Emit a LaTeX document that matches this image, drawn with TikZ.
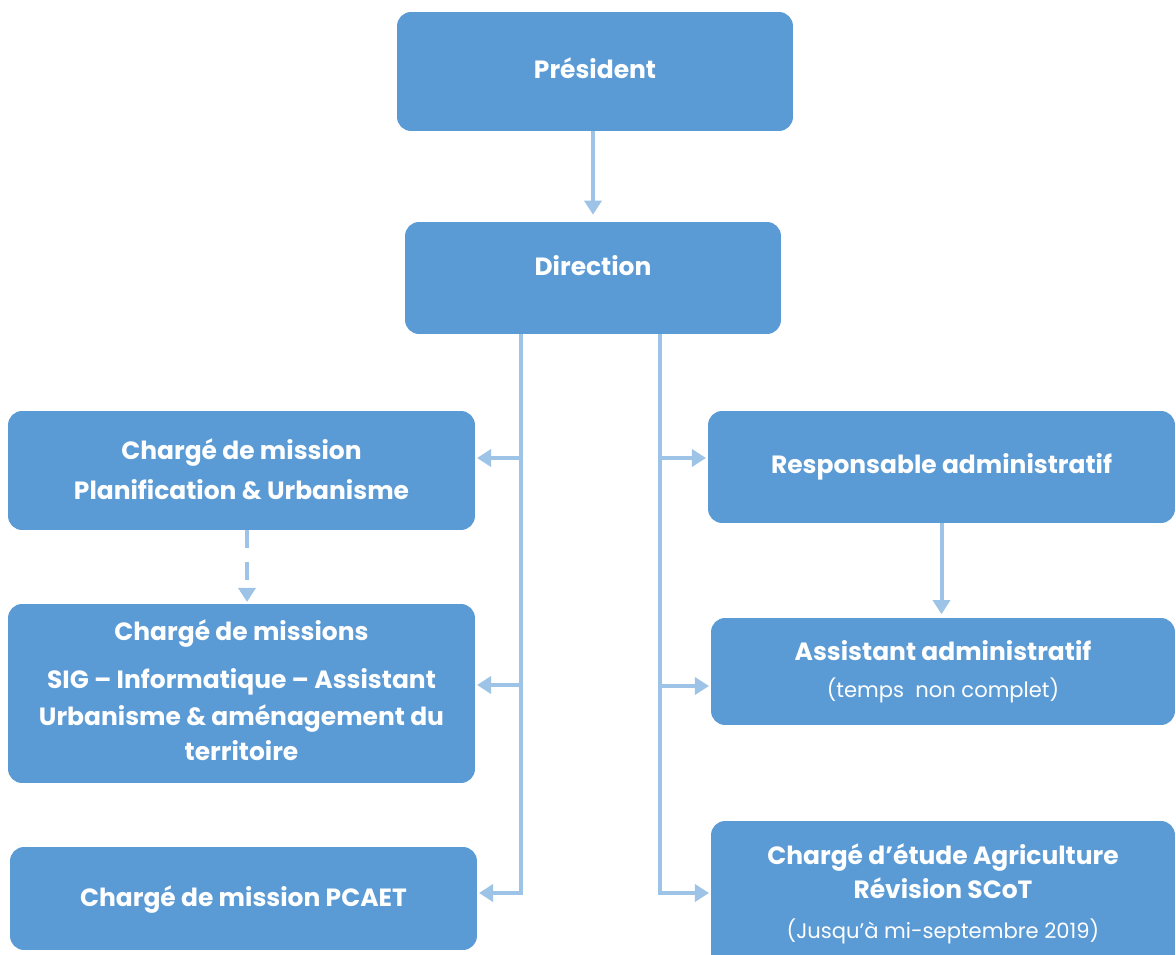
\documentclass[tikz,border=0pt]{standalone}
\usepackage{fontspec}
\setmainfont{Poppins}
\usetikzlibrary{arrows.meta,calc}
\definecolor{boxblue}{HTML}{5B9BD5}
\definecolor{lineblue}{HTML}{9DC3E6}
\tikzset{
  box/.style={draw=none,fill=boxblue,rounded corners=0.28cm,inner sep=0pt},
  conn/.style={draw=lineblue,line width=0.08cm},
  arr/.style={conn,-{Triangle[length=0.28cm,width=0.34cm]}},
  ttl/.style={text=white,font=\bfseries\fontsize{14.2}{17}\selectfont,anchor=base,inner sep=0pt},
  sml/.style={text=white,font=\fontsize{12}{14}\selectfont,anchor=base,inner sep=0pt},
}
\begin{document}
\begin{tikzpicture}[x=0.02cm,y=-0.02cm]
\clip (0,0) rectangle (1176,955);
\fill[white] (0,0) rectangle (1176,955);
% boxes
\node[box,minimum width=7.92cm,minimum height=2.38cm] (pres) at (595,71.5) {};
\node[box,minimum width=7.52cm,minimum height=2.24cm] (dir) at (593,278) {};
\node[box,minimum width=9.34cm,minimum height=2.38cm] (pu) at (241.5,470.5) {};
\node[box,minimum width=9.34cm,minimum height=3.58cm] (sig) at (241.5,693.5) {};
\node[box,minimum width=9.34cm,minimum height=2.06cm] (pcaet) at (243.5,898.5) {};
\node[box,minimum width=9.34cm,minimum height=2.24cm] (resp) at (941.5,467) {};
\node[box,minimum width=9.28cm,minimum height=2.14cm] (assist) at (943,671.5) {};
\node[box,minimum width=9.28cm,minimum height=2.98cm] (etude) at (943,895.5) {};
% texts
\node[ttl] (tpres) at (595,79) {Président};
\node[ttl] (tdir) at (593,276) {Direction};
\node[ttl] (tpu1) at (241.5,460) {Chargé de mission};
\node[ttl] (tpu2) at (241.5,500) {Planification \& Urbanisme};
\node[ttl] (tsig1) at (241.5,641) {Chargé de missions};
\node[ttl] (tsig2) at (241.5,688) {SIG – Informatique – Assistant};
\node[ttl] (tsig3) at (241.5,725) {Urbanisme \& aménagement du};
\node[ttl] (tsig4) at (241.5,760) {territoire};
\node[ttl] (tpcaet) at (243.5,906) {Chargé de mission PCAET};
\node[ttl] (tresp) at (941.5,474) {Responsable administratif};
\node[ttl] (tas1) at (943,660) {Assistant administratif};
\node[sml] (tas2) at (943,697) {(temps\ \ non complet)};
\node[ttl] (tet1) at (943,864) {Chargé d’étude Agriculture};
\node[ttl] (tet2) at (943,898) {Révision SCoT};
\node[sml] (tet3) at (943,938) {(Jusqu'à mi-septembre 2019)};
% connectors
\draw[arr,shorten >=4pt] (pres.south -| dir.north) -- (dir.north);
\coordinate (lt0) at (521,334);
\coordinate (lt1) at (521,458);
\coordinate (lt2) at (521,685);
\coordinate (lt3) at (521,893);
\coordinate (rt0) at (660,334);
\coordinate (rt1) at (660,458);
\coordinate (rt2) at (660,686);
\coordinate (rt3) at (660,893);
\draw[arr,shorten >=1pt] (lt0) -- (lt3) -- (lt3 -| pcaet.east);
\draw[arr,shorten >=1pt] (lt1) -- (lt1 -| pu.east);
\draw[arr,shorten >=1pt] (lt2) -- (lt2 -| sig.east);
\draw[arr,shorten >=1pt] (rt0) -- (rt3) -- (rt3 -| etude.west);
\draw[arr,shorten >=1pt] (rt1) -- (rt1 -| resp.west);
\draw[arr,shorten >=1pt] (rt2) -- (rt2 -| assist.west);
\draw[arr,shorten >=2pt] (resp.south) -- (resp.south |- assist.north);
\draw[arr,dash pattern=on 0.36cm off 0.28cm,shorten >=1pt] ([xshift=0.11cm]pu.south) -- ([xshift=0.11cm]pu.south |- sig.north);
\end{tikzpicture}
\end{document}
